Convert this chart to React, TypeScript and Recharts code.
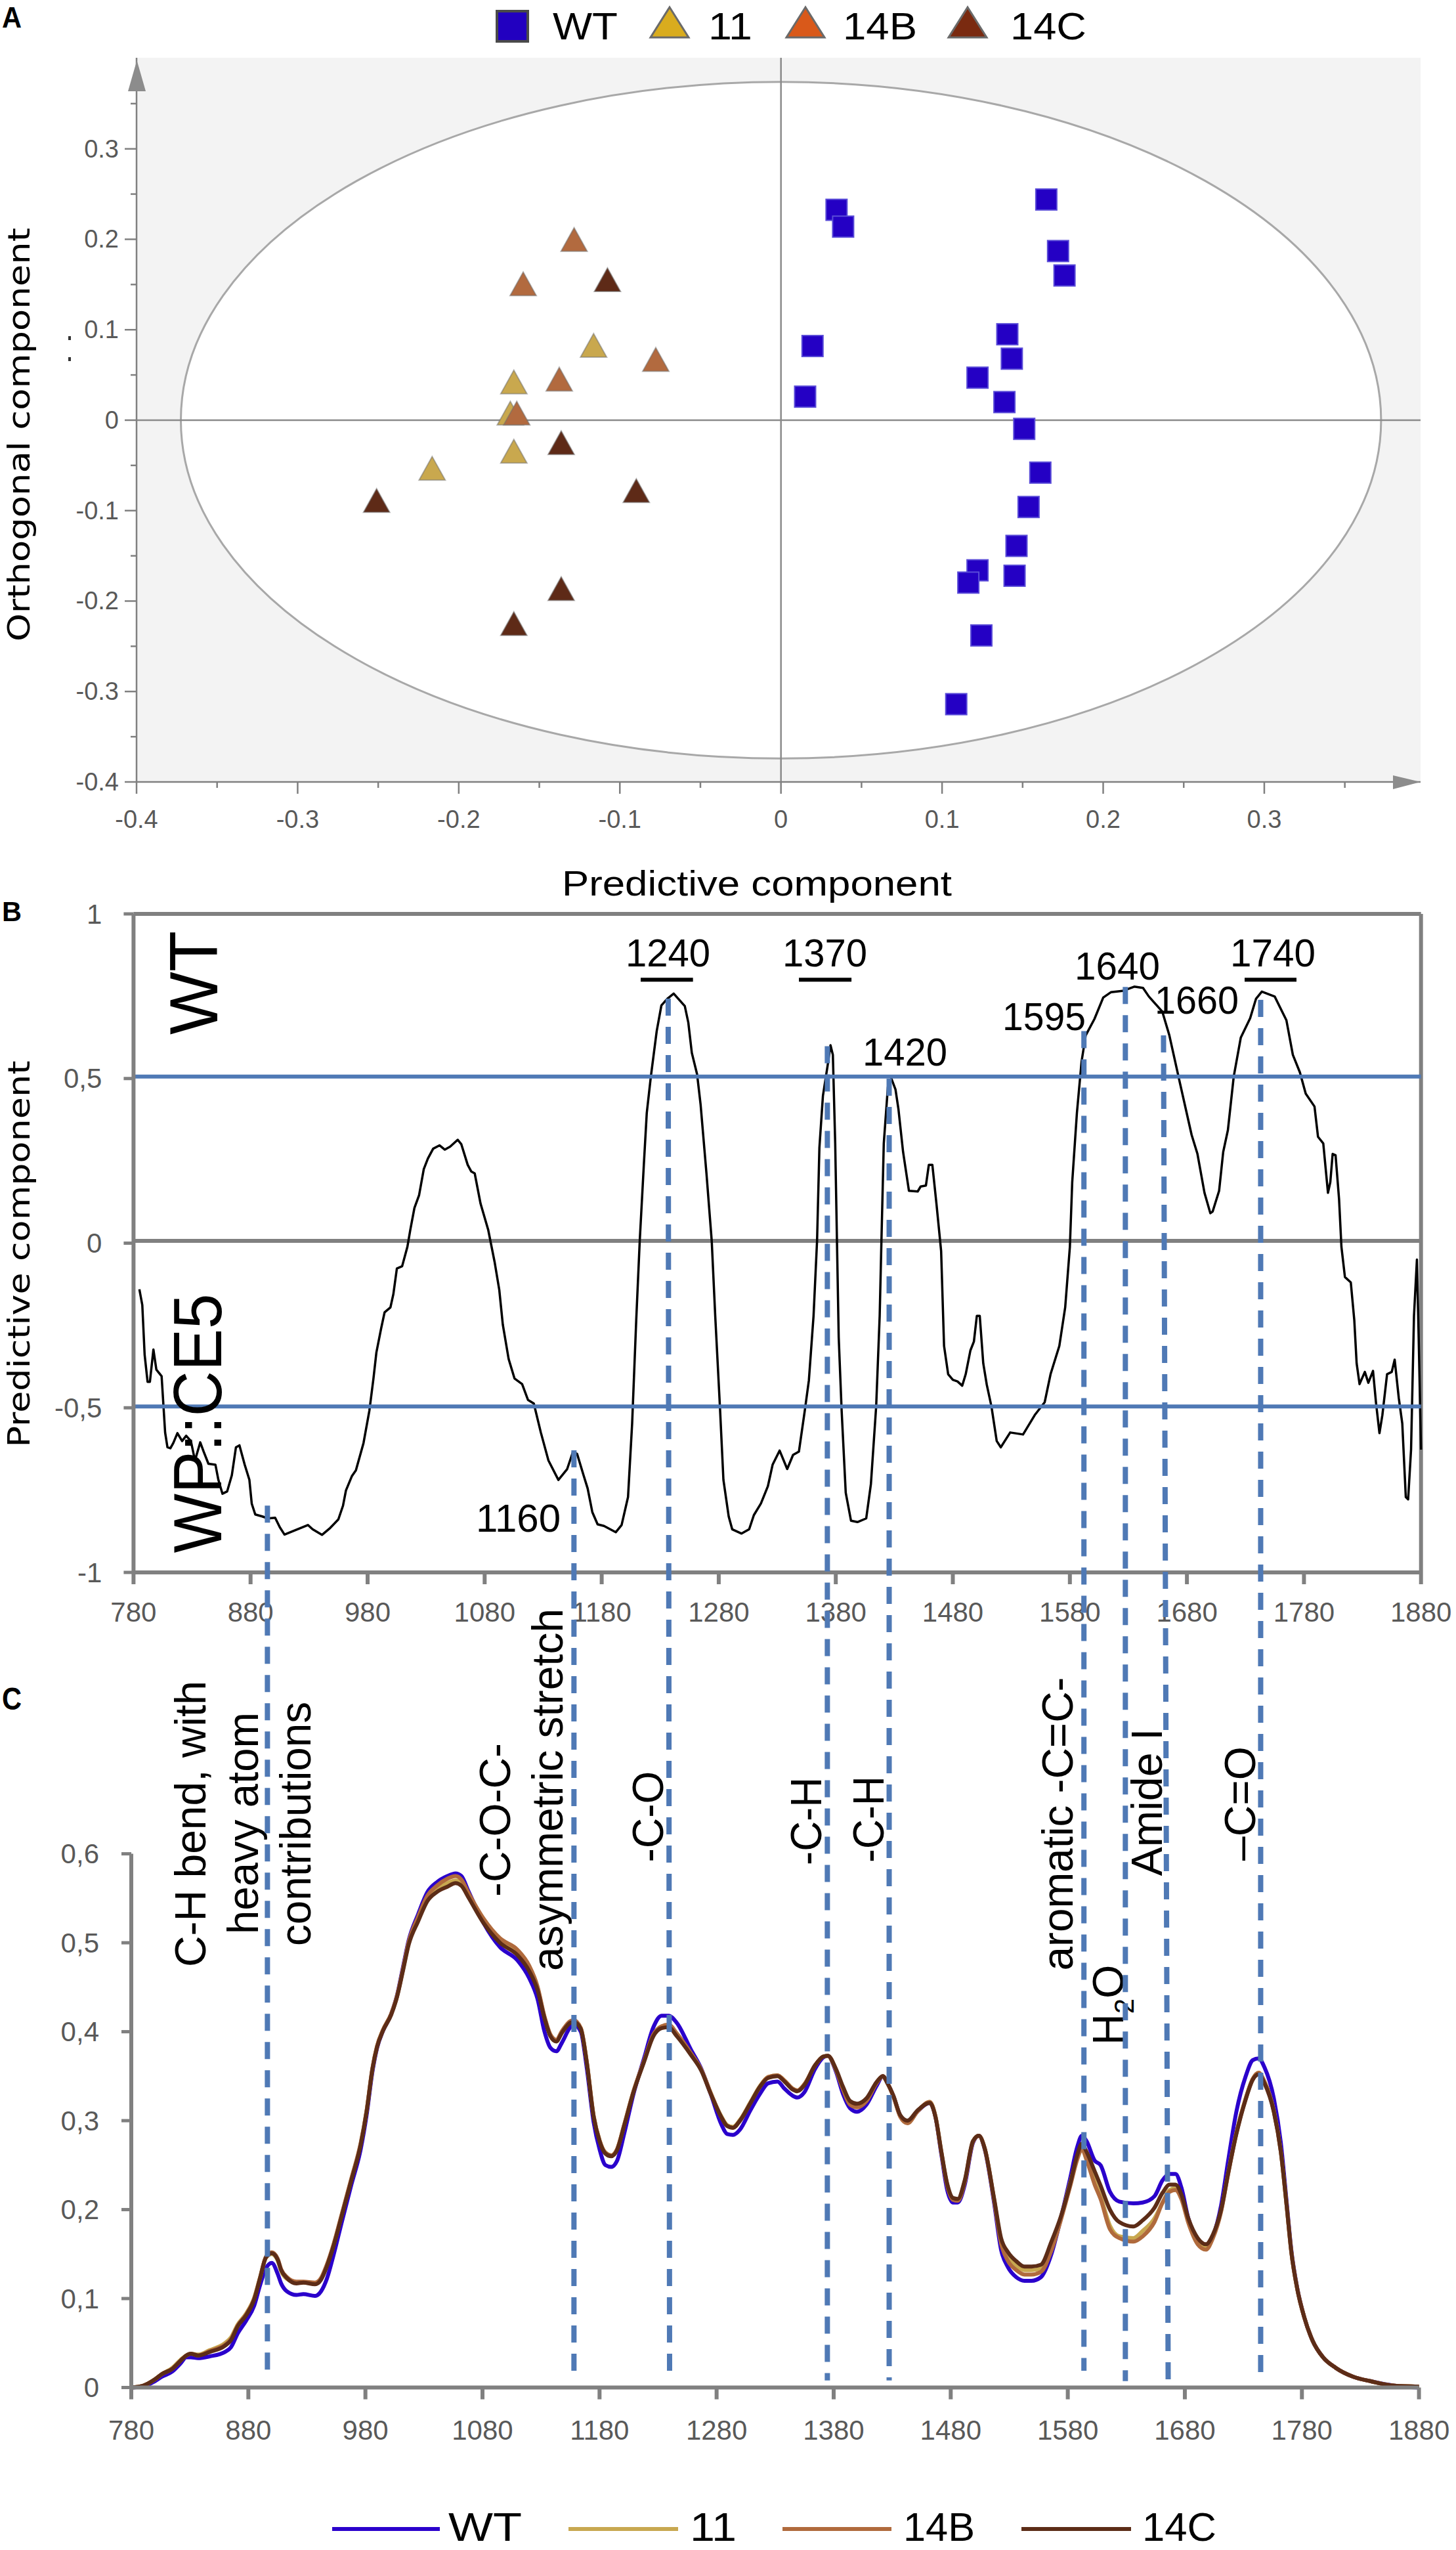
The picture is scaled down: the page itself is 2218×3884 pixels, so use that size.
import React from 'react';
import { ComposedChart, ScatterChart, Scatter, Line, XAxis, YAxis, ReferenceLine, ReferenceArea } from 'recharts';

const W = 2218;
const H = 3884;
const FONT = '"Liberation Sans", Arial, sans-serif';
const GRAY = '#808080';
const BLUE = '#4f79b5';
const TICK_TEXT = '#595959';

// ---------- Panel A ----------
const wtPoints = [
  [0.0345, 0.2326], [0.0386, 0.214], [0.1647, 0.244], [0.172, 0.187], [0.176, 0.16],
  [0.1405, 0.095], [0.1433, 0.068], [0.0196, 0.082], [0.015, 0.026], [0.122, 0.047],
  [0.1387, 0.02], [0.151, -0.0096], [0.161, -0.058], [0.1537, -0.096], [0.1462, -0.139],
  [0.145, -0.172], [0.122, -0.166], [0.1163, -0.1796], [0.1244, -0.238], [0.1088, -0.314],
];
const line11Points = [[-0.1163, 0.082], [-0.1658, 0.0415], [-0.1658, -0.035], [-0.2165, -0.054], [-0.168, 0.007]];
const line14BPoints = [[-0.1284, 0.199], [-0.16, 0.15], [-0.0777, 0.0665], [-0.1376, 0.0447], [-0.164, 0.007]];
const line14CPoints = [[-0.1077, 0.1546], [-0.1364, -0.0256], [-0.0898, -0.0786], [-0.251, -0.0895], [-0.1364, -0.187], [-0.1658, -0.2256]];
const aXTicks = [-0.4, -0.35, -0.3, -0.25, -0.2, -0.15, -0.1, -0.05, 0, 0.05, 0.1, 0.15, 0.2, 0.25, 0.3, 0.35];
const aYTicks = [-0.4, -0.35, -0.3, -0.25, -0.2, -0.15, -0.1, -0.05, 0, 0.05, 0.1, 0.15, 0.2, 0.25, 0.3, 0.35];

// ---------- Panel B ----------
const bWave = [
  785, 787.5, 789.5, 792, 794, 797, 799.5, 804, 807, 809, 811.5, 814, 817.5, 821.5, 825, 829, 832.5, 837, 840, 844,
  850, 852.5, 856, 860, 864, 867.5, 870.5, 875, 879, 881, 884, 890, 895, 901, 905, 909, 920, 929, 933, 941,
  948, 955, 959, 961.5, 966.5, 970, 976.5, 981.5, 985, 987.5, 991.5, 994.5, 999.5, 1002, 1005, 1009.5, 1014, 1016.5, 1020, 1024,
  1028, 1031.5, 1036, 1041.5, 1046, 1050.5, 1057, 1060, 1065.5, 1068.5, 1071.5, 1076.5, 1083, 1088.5, 1092.5, 1095.5, 1100.5, 1105.5, 1112, 1117,
  1122, 1128, 1134.5, 1143, 1150.5, 1155.5, 1159, 1164.5, 1168, 1172, 1176.5, 1182, 1192, 1197, 1202.5, 1206, 1209.5, 1212.5, 1216, 1218.5,
  1222, 1227, 1231, 1236, 1241.5, 1251, 1254, 1257, 1261.5, 1264.5, 1269.5, 1274, 1277, 1281, 1284, 1288.5, 1291.5, 1299.5, 1306, 1310,
  1316, 1322, 1326, 1332, 1338.5, 1343.5, 1348.5, 1353.5, 1357, 1361, 1364, 1366, 1369, 1373, 1375.5, 1377.5, 1379.5, 1381, 1382.5, 1385,
  1388.5, 1393, 1398.5, 1406, 1410, 1414.5, 1417.5, 1419, 1421, 1424.5, 1427.5, 1431, 1433.5, 1437.5, 1442.5, 1450, 1452.5, 1457, 1459.5, 1462.5,
  1466, 1470, 1472.5, 1476, 1480, 1484, 1488, 1491, 1495, 1498, 1500.5, 1503, 1506, 1509, 1513, 1517.5, 1521, 1529, 1540, 1550,
  1558.5, 1563.5, 1571, 1576, 1580, 1582, 1586, 1590, 1593.5, 1601, 1608.5, 1615, 1625, 1635, 1642.5, 1647.5, 1659, 1665, 1674, 1684,
  1689, 1695, 1700, 1702, 1707.5, 1711, 1715, 1720, 1726, 1734, 1739, 1744, 1755, 1765, 1770.5, 1776.5, 1781.5, 1789, 1792, 1796.5,
  1800.5, 1802.5, 1804.5, 1807, 1810, 1812, 1815, 1820, 1823, 1825, 1827.5, 1832, 1835, 1839, 1841.5, 1844.5, 1847, 1851, 1855, 1857.5,
  1861, 1864, 1867, 1869, 1871.5, 1874, 1876.5, 1878, 1880,
];
const bScore = [
  -0.14, -0.188, -0.339, -0.421, -0.421, -0.323, -0.384, -0.404, -0.575, -0.62, -0.623, -0.607, -0.577, -0.601, -0.585, -0.601, -0.66, -0.605, -0.634, -0.67,
  -0.673, -0.719, -0.761, -0.754, -0.705, -0.62, -0.614, -0.673, -0.719, -0.791, -0.824, -0.83, -0.836, -0.834, -0.863, -0.885, -0.869, -0.856, -0.869, -0.886,
  -0.865, -0.839, -0.797, -0.751, -0.708, -0.69, -0.607, -0.509, -0.411, -0.332, -0.26, -0.21, -0.195, -0.155, -0.077, -0.07, -0.011, 0.041, 0.107, 0.146,
  0.225, 0.257, 0.287, 0.297, 0.284, 0.293, 0.314, 0.301, 0.238, 0.218, 0.212, 0.12, 0.041, -0.057, -0.142, -0.247, -0.352, -0.411, -0.428, -0.476,
  -0.487, -0.575, -0.66, -0.719, -0.686, -0.633, -0.64, -0.705, -0.745, -0.817, -0.854, -0.859, -0.878, -0.856, -0.771, -0.548, -0.234, 0.007, 0.238, 0.395,
  0.506, 0.644, 0.722, 0.742, 0.758, 0.72, 0.67, 0.578, 0.513, 0.421, 0.212, 0.007, -0.221, -0.496, -0.719, -0.83, -0.869, -0.882, -0.869, -0.826,
  -0.791, -0.738, -0.673, -0.63, -0.686, -0.643, -0.633, -0.509, -0.417, -0.221, 0.007, 0.29, 0.447, 0.539, 0.601, 0.572, 0.303, 0.007, -0.286, -0.509,
  -0.758, -0.843, -0.847, -0.836, -0.732, -0.496, -0.221, 0.007, 0.303, 0.474, 0.5, 0.467, 0.408, 0.277, 0.159, 0.157, 0.172, 0.175, 0.238, 0.238,
  0.12, -0.024, -0.312, -0.398, -0.415, -0.42, -0.433, -0.398, -0.326, -0.299, -0.221, -0.221, -0.365, -0.43, -0.496, -0.601, -0.62, -0.575, -0.581, -0.522,
  -0.483, -0.398, -0.312, -0.195, -0.011, 0.185, 0.395, 0.552, 0.631, 0.681, 0.746, 0.762, 0.766, 0.779, 0.775, 0.749, 0.703, 0.631, 0.487, 0.329,
  0.271, 0.153, 0.091, 0.096, 0.159, 0.277, 0.343, 0.506, 0.624, 0.683, 0.742, 0.764, 0.749, 0.677, 0.572, 0.519, 0.454, 0.415, 0.323, 0.303,
  0.153, 0.185, 0.271, 0.267, 0.133, -0.011, -0.103, -0.119, -0.234, -0.365, -0.428, -0.391, -0.424, -0.388, -0.483, -0.577, -0.522, -0.398, -0.391, -0.354,
  -0.47, -0.548, -0.771, -0.778, -0.627, -0.221, -0.05, -0.286, -0.627,
];
const waveTicks = [780, 880, 980, 1080, 1180, 1280, 1380, 1480, 1580, 1680, 1780, 1880];
const bYTicks = [-1, -0.5, 0, 0.5, 1];
const bThresholds = [0.506, -0.496];
const bBars = [[1213.3, 1258], [1348.5, 1393.4], [1729.3, 1773.6]];

// ---------- Panel C ----------
const cWave = [
  780, 790, 800, 806, 815, 822, 827, 831, 837, 847,
  860, 865, 871, 878, 885, 890, 895, 900, 905, 908,
  913, 921, 927, 937, 942, 947, 953, 960, 968, 976,
  981, 986, 990, 995, 1002, 1007, 1012, 1017, 1025, 1033,
  1041, 1050, 1057, 1062, 1068, 1081, 1095, 1110, 1120, 1127,
  1133, 1138, 1143, 1148, 1155, 1158, 1164, 1169, 1175, 1180,
  1185, 1190, 1195, 1201, 1209, 1218, 1226, 1233, 1239, 1246,
  1258, 1267, 1275, 1284, 1289, 1294, 1300, 1309, 1317, 1324,
  1332, 1338, 1345, 1349, 1355, 1364, 1371, 1375, 1382, 1388,
  1394, 1400, 1408, 1417, 1422, 1426, 1431, 1437, 1443, 1452,
  1462, 1467, 1472, 1477, 1482, 1486, 1492, 1499, 1504, 1509,
  1517, 1523, 1529, 1536, 1543, 1549, 1557, 1566, 1574, 1582,
  1588, 1592, 1596, 1603, 1608, 1616, 1624, 1636, 1644, 1654,
  1661, 1667, 1672, 1677, 1683, 1691, 1698, 1704, 1711, 1717,
  1724, 1732, 1738, 1743, 1748, 1756, 1762, 1767, 1771, 1776,
  1782, 1789, 1798, 1809, 1824, 1839, 1859, 1880,
];
const cWT = [
  0, 0.001, 0.007, 0.012, 0.018, 0.027, 0.034, 0.034, 0.033, 0.035,
  0.04, 0.045, 0.061, 0.075, 0.092, 0.115, 0.134, 0.14, 0.128, 0.117,
  0.108, 0.104, 0.105, 0.103, 0.108, 0.122, 0.15, 0.187, 0.228, 0.268,
  0.306, 0.355, 0.382, 0.401, 0.42, 0.441, 0.472, 0.503, 0.532, 0.557,
  0.568, 0.575, 0.578, 0.575, 0.558, 0.522, 0.495, 0.48, 0.46, 0.437,
  0.4, 0.382, 0.378, 0.388, 0.405, 0.408, 0.4, 0.36, 0.298, 0.268,
  0.25, 0.248, 0.255, 0.285, 0.33, 0.37, 0.405, 0.418, 0.418, 0.41,
  0.38, 0.358, 0.33, 0.296, 0.285, 0.284, 0.29, 0.312, 0.33, 0.342,
  0.344, 0.336, 0.328, 0.326, 0.332, 0.358, 0.371, 0.373, 0.355, 0.33,
  0.314, 0.31, 0.318, 0.34, 0.35, 0.342, 0.328, 0.305, 0.298, 0.311,
  0.32, 0.304, 0.262, 0.222, 0.208, 0.208, 0.228, 0.275, 0.283, 0.268,
  0.208, 0.155, 0.135, 0.124, 0.12, 0.12, 0.124, 0.15, 0.19, 0.235,
  0.27, 0.283, 0.277, 0.255, 0.25, 0.22, 0.209, 0.207, 0.208, 0.215,
  0.233, 0.24, 0.24, 0.225, 0.19, 0.165, 0.158, 0.17, 0.205, 0.255,
  0.31, 0.35, 0.368, 0.37, 0.36, 0.325, 0.275, 0.208, 0.154, 0.112,
  0.079, 0.053, 0.034, 0.022, 0.012, 0.007, 0.002, 0,
];
const c11 = [
  0, 0.002, 0.009, 0.015, 0.022, 0.031, 0.036, 0.038, 0.037, 0.042,
  0.05, 0.056, 0.071, 0.083, 0.101, 0.124, 0.146, 0.15, 0.143, 0.131,
  0.122, 0.118, 0.118, 0.117, 0.122, 0.137, 0.161, 0.195, 0.234, 0.274,
  0.311, 0.358, 0.384, 0.402, 0.42, 0.44, 0.469, 0.5, 0.527, 0.55,
  0.561, 0.567, 0.57, 0.567, 0.554, 0.525, 0.503, 0.489, 0.471, 0.449,
  0.416, 0.396, 0.39, 0.4, 0.411, 0.412, 0.404, 0.367, 0.305, 0.278,
  0.264, 0.261, 0.268, 0.295, 0.333, 0.367, 0.396, 0.406, 0.407, 0.397,
  0.375, 0.357, 0.331, 0.305, 0.295, 0.293, 0.301, 0.321, 0.339, 0.349,
  0.351, 0.345, 0.336, 0.334, 0.341, 0.362, 0.372, 0.373, 0.357, 0.336,
  0.319, 0.316, 0.323, 0.343, 0.35, 0.342, 0.328, 0.305, 0.298, 0.311,
  0.321, 0.305, 0.265, 0.228, 0.212, 0.211, 0.232, 0.277, 0.283, 0.269,
  0.212, 0.165, 0.147, 0.137, 0.132, 0.132, 0.134, 0.158, 0.19, 0.23,
  0.258, 0.27, 0.258, 0.232, 0.215, 0.182, 0.17, 0.168, 0.176, 0.19,
  0.208, 0.222, 0.224, 0.214, 0.188, 0.164, 0.157, 0.17, 0.199, 0.241,
  0.286, 0.325, 0.347, 0.354, 0.344, 0.311, 0.265, 0.204, 0.152, 0.111,
  0.079, 0.053, 0.034, 0.022, 0.012, 0.007, 0.002, 0.001,
];
const c14B = [
  0, 0.002, 0.009, 0.015, 0.021, 0.03, 0.036, 0.038, 0.036, 0.041,
  0.048, 0.054, 0.07, 0.082, 0.1, 0.123, 0.147, 0.152, 0.145, 0.133,
  0.124, 0.119, 0.119, 0.118, 0.123, 0.138, 0.162, 0.196, 0.235, 0.275,
  0.311, 0.359, 0.384, 0.402, 0.42, 0.44, 0.47, 0.501, 0.529, 0.553,
  0.564, 0.572, 0.575, 0.571, 0.556, 0.527, 0.505, 0.492, 0.474, 0.451,
  0.417, 0.397, 0.391, 0.401, 0.412, 0.413, 0.404, 0.367, 0.305, 0.278,
  0.264, 0.261, 0.268, 0.295, 0.333, 0.367, 0.397, 0.406, 0.408, 0.398,
  0.376, 0.357, 0.331, 0.304, 0.294, 0.292, 0.3, 0.32, 0.338, 0.349,
  0.351, 0.345, 0.336, 0.334, 0.341, 0.362, 0.372, 0.373, 0.357, 0.335,
  0.318, 0.315, 0.322, 0.343, 0.35, 0.342, 0.327, 0.304, 0.297, 0.311,
  0.321, 0.304, 0.264, 0.227, 0.211, 0.21, 0.231, 0.276, 0.283, 0.269,
  0.211, 0.162, 0.142, 0.132, 0.127, 0.127, 0.13, 0.154, 0.188, 0.226,
  0.256, 0.268, 0.256, 0.228, 0.212, 0.178, 0.168, 0.164, 0.17, 0.186,
  0.208, 0.22, 0.222, 0.212, 0.185, 0.161, 0.155, 0.168, 0.198, 0.24,
  0.286, 0.325, 0.347, 0.354, 0.344, 0.311, 0.265, 0.204, 0.152, 0.111,
  0.079, 0.053, 0.034, 0.022, 0.012, 0.007, 0.002, 0.001,
];
const c14C = [
  0, 0.002, 0.009, 0.015, 0.021, 0.03, 0.036, 0.038, 0.036, 0.04,
  0.047, 0.053, 0.069, 0.081, 0.099, 0.123, 0.146, 0.151, 0.144, 0.132,
  0.123, 0.117, 0.118, 0.116, 0.121, 0.136, 0.16, 0.194, 0.233, 0.273,
  0.31, 0.358, 0.383, 0.401, 0.419, 0.439, 0.468, 0.498, 0.524, 0.547,
  0.557, 0.563, 0.567, 0.564, 0.551, 0.522, 0.5, 0.486, 0.468, 0.447,
  0.415, 0.395, 0.389, 0.399, 0.41, 0.411, 0.403, 0.366, 0.304, 0.277,
  0.263, 0.26, 0.267, 0.294, 0.332, 0.366, 0.395, 0.404, 0.405, 0.395,
  0.374, 0.356, 0.33, 0.304, 0.294, 0.292, 0.3, 0.32, 0.338, 0.348,
  0.35, 0.344, 0.335, 0.333, 0.34, 0.362, 0.372, 0.373, 0.358, 0.338,
  0.322, 0.319, 0.325, 0.344, 0.35, 0.342, 0.328, 0.306, 0.3, 0.312,
  0.32, 0.304, 0.265, 0.229, 0.213, 0.212, 0.233, 0.277, 0.283, 0.269,
  0.213, 0.168, 0.152, 0.142, 0.136, 0.136, 0.138, 0.164, 0.192, 0.229,
  0.261, 0.274, 0.265, 0.243, 0.227, 0.2, 0.186, 0.181, 0.188, 0.202,
  0.219, 0.228, 0.228, 0.217, 0.19, 0.168, 0.161, 0.172, 0.2, 0.241,
  0.285, 0.324, 0.346, 0.352, 0.342, 0.31, 0.265, 0.204, 0.152, 0.111,
  0.079, 0.053, 0.034, 0.022, 0.012, 0.007, 0.002, 0.001,
];
const cYTicks = [0, 0.1, 0.2, 0.3, 0.4, 0.5, 0.6];

// ---------- Dashed guides, in panel B's units, running down into panel C ----------
const guideTopWave = [894.4, 1156.3, 1236.8, 1372.8, 1425.6, 1592, 1627.4, 1660, 1743];
const guideBottomWave = [894.4, 1156.3, 1238, 1372.8, 1425.6, 1592, 1627.4, 1664, 1743];
const guideTop = [-0.797, -0.629, 0.743, 0.598, 0.4995, 0.644, 0.778, 0.631, 0.739];
const guideBottom = [-3.437, -3.449, -3.449, -3.454, -3.454, -3.425, -3.456, -3.475, -3.449];

const bTable = bWave.map((w, i) => ({ w, v: bScore[i] }));
const cTable = cWave.map((w, i) => ({ w, WT: cWT[i], s11: c11[i], s14B: c14B[i], s14C: c14C[i] }));
const toXY = (pts: number[][]) => pts.map(([x, y]) => ({ x, y }));

const layerStyle: React.CSSProperties = { position: 'absolute', left: 0, top: 0 };

const isMajor = (v: number) => Math.abs(v * 10 - Math.round(v * 10)) < 1e-6;

const AXTick = (p: any) => {
  const v = p.payload.value;
  const major = isMajor(v);
  return (
    <g>
      <line x1={p.x} x2={p.x} y1={p.y} y2={p.y + (major ? 18 : 9)} stroke={GRAY} strokeWidth={2.5} />
      {major && (
        <text x={p.x} y={p.y + 57} textAnchor="middle" dominantBaseline="central" fontFamily={FONT} fontSize={38} fill={TICK_TEXT}>
          {Math.abs(v) < 1e-9 ? '0' : v.toFixed(1)}
        </text>
      )}
    </g>
  );
};
const AYTick = (p: any) => {
  const v = p.payload.value;
  const major = isMajor(v);
  return (
    <g>
      <line x1={p.x} x2={p.x - (major ? 18 : 9)} y1={p.y} y2={p.y} stroke={GRAY} strokeWidth={2.5} />
      {major && (
        <text x={p.x - 27} y={p.y} textAnchor="end" dominantBaseline="central" fontFamily={FONT} fontSize={38} fill={TICK_TEXT}>
          {Math.abs(v) < 1e-9 ? '0' : v.toFixed(1)}
        </text>
      )}
    </g>
  );
};
const waveXTick = (dy: number) => (p: any) => (
  <g>
    <line x1={p.x} x2={p.x} y1={p.y} y2={p.y + 18} stroke={GRAY} strokeWidth={6} />
    <text x={p.x} y={p.y + dy} textAnchor="middle" dominantBaseline="central" fontFamily={FONT} fontSize={42} fill={TICK_TEXT}>
      {p.payload.value}
    </text>
  </g>
);
const commaYTick = (gap: number) => (p: any) => (
  <g>
    <line x1={p.x} x2={p.x - 15} y1={p.y} y2={p.y} stroke={GRAY} strokeWidth={5} />
    <text x={p.x - gap} y={p.y} textAnchor="end" dominantBaseline="central" fontFamily={FONT} fontSize={42} fill={TICK_TEXT}>
      {String(p.payload.value).replace('.', ',')}
    </text>
  </g>
);

const Square = (p: any) => (
  <rect x={p.cx - 16} y={p.cy - 16} width={32} height={32} fill="#2400c4" stroke="#5a4cd8" strokeWidth={2} />
);
const triangle = (fill: string) => (p: any) => (
  <polygon
    points={`${p.cx},${p.cy - 19} ${p.cx + 20},${p.cy + 17} ${p.cx - 20},${p.cy + 17}`}
    fill={fill}
    stroke="rgba(110,110,110,0.5)"
    strokeWidth={2}
  />
);
const EllipseShape = (p: any) => (
  <ellipse
    cx={p.x + p.width / 2}
    cy={p.y + p.height / 2}
    rx={Math.abs(p.width) / 2}
    ry={Math.abs(p.height) / 2}
    fill="#ffffff"
    stroke="#a8a8a8"
    strokeWidth={3}
  />
);

const Txt = ({ x, y, len, size = 60, children, fill = '#000', weight, family = FONT }: any) => (
  <text x={x} y={y} textLength={len} lengthAdjust={len ? 'spacingAndGlyphs' : undefined} fontFamily={family} fontSize={size} fill={fill} fontWeight={weight}>
    {children}
  </text>
);
const VTxt = ({ x, yc, len, size = 66, children, family = FONT, fill = '#000' }: any) => (
  <text
    transform={`translate(${x} ${yc}) rotate(-90)`}
    textAnchor="middle"
    textLength={len}
    lengthAdjust={len ? 'spacingAndGlyphs' : undefined}
    fontFamily={family}
    fontSize={size}
    fill={fill}
  >
    {children}
  </text>
);
const LegendTri = ({ x, w = 58, fill }: any) => (
  <polygon points={`${x + w / 2},11 ${x + w},57 ${x},57`} fill={fill} stroke="#6a6a6a" strokeWidth={3} />
);

export default function App() {
  return (
    <div style={{ position: 'absolute', left: 0, top: 0, width: W, height: H, overflow: 'hidden' }}>
      {/* Panel A */}
      <div style={layerStyle}>
        <ScatterChart width={W} height={H} margin={{ top: 88, right: W - 2164, left: 0, bottom: H - 1191 - 80 }}>
          <XAxis type="number" dataKey="x" domain={[-0.4, 0.397]} ticks={aXTicks} interval={0} height={80} tickSize={0} tickMargin={0} tickLine={false} axisLine={{ stroke: GRAY, strokeWidth: 2.5 }} tick={AXTick} />
          <YAxis type="number" dataKey="y" domain={[-0.4, 0.4007]} ticks={aYTicks} interval={0} width={208} tickSize={0} tickMargin={0} tickLine={false} axisLine={{ stroke: GRAY, strokeWidth: 2.5 }} tick={AYTick} />
          <ReferenceArea x1={-0.4} x2={0.397} y1={-0.4} y2={0.4007} fill="#f3f3f3" fillOpacity={1} stroke="none" />
          <ReferenceArea x1={-0.3725} x2={0.3725} y1={-0.374} y2={0.374} shape={EllipseShape} />
          <ReferenceLine x={0} stroke="#8a8a8a" strokeWidth={2.5} />
          <ReferenceLine y={0} stroke="#8a8a8a" strokeWidth={2.5} />
          <Scatter name="WT" data={toXY(wtPoints)} shape={Square} isAnimationActive={false} />
          <Scatter name="11" data={toXY(line11Points)} shape={triangle('#c9a84e')} isAnimationActive={false} />
          <Scatter name="14B" data={toXY(line14BPoints)} shape={triangle('#b26a3f')} isAnimationActive={false} />
          <Scatter name="14C" data={toXY(line14CPoints)} shape={triangle('#5e2a17')} isAnimationActive={false} />
        </ScatterChart>
      </div>

      {/* Panel B */}
      <div style={layerStyle}>
        <ComposedChart width={W} height={H} data={bTable} margin={{ top: 1392, right: W - 2164.7, left: 0, bottom: H - 2395 - 80 }}>
          <XAxis type="number" dataKey="w" domain={[780, 1880]} ticks={waveTicks} interval={0} height={80} tickSize={0} tickMargin={0} tickLine={false} axisLine={{ stroke: GRAY, strokeWidth: 6 }} tick={waveXTick(60)} />
          <YAxis type="number" domain={[-1, 1]} ticks={bYTicks} interval={0} width={203.4} tickSize={0} tickMargin={0} tickLine={false} axisLine={{ stroke: GRAY, strokeWidth: 6 }} tick={commaYTick(48)} />
          <ReferenceLine y={1} stroke={GRAY} strokeWidth={6} />
          <ReferenceLine x={1880} stroke={GRAY} strokeWidth={6} />
          <ReferenceLine y={0.007} stroke={GRAY} strokeWidth={6} />
          <Line type="linear" dataKey="v" stroke="#000" strokeWidth={3.5} strokeLinejoin="round" dot={false} isAnimationActive={false} />
          {bThresholds.map((t) => (
            <ReferenceLine key={t} y={t} stroke={BLUE} strokeWidth={6} />
          ))}
          {bBars.map(([a, b]) => (
            <ReferenceLine key={a} segment={[{ x: a, y: 0.8 }, { x: b, y: 0.8 }]} stroke="#000" strokeWidth={6} />
          ))}
        </ComposedChart>
      </div>

      {/* Panel C */}
      <div style={layerStyle}>
        <ComposedChart width={W} height={H} data={cTable} margin={{ top: 2823.6, right: W - 2161.6, left: 0, bottom: H - 3636.5 - 90 }}>
          <XAxis type="number" dataKey="w" domain={[780, 1880]} ticks={waveTicks} interval={0} height={90} tickSize={0} tickMargin={0} tickLine={false} axisLine={{ stroke: GRAY, strokeWidth: 6 }} tick={waveXTick(65)} />
          <YAxis type="number" domain={[0, 0.6]} ticks={cYTicks} interval={0} width={200} tickSize={0} tickMargin={0} tickLine={false} axisLine={{ stroke: GRAY, strokeWidth: 6 }} tick={commaYTick(49)} />
          <Line type="monotone" dataKey="WT" stroke="#2a00cc" strokeWidth={6} dot={false} isAnimationActive={false} />
          <Line type="monotone" dataKey="s11" stroke="#c8a850" strokeWidth={6} dot={false} isAnimationActive={false} />
          <Line type="monotone" dataKey="s14B" stroke="#b06a3c" strokeWidth={6} dot={false} isAnimationActive={false} />
          <Line type="monotone" dataKey="s14C" stroke="#5c2c17" strokeWidth={6} dot={false} isAnimationActive={false} />
        </ComposedChart>
      </div>

      {/* Text, legends, arrows */}
      <svg width={W} height={H} style={layerStyle}>
        <polygon points="195,139 222,139 208.5,92" fill="#8c8c8c" />
        <polygon points="2122,1181 2122,1202 2164,1191" fill="#8c8c8c" />

        <Txt x={3} y={42} size={44} weight="bold" len={30}>A</Txt>
        <Txt x={3} y={1403} size={42} weight="bold" len={30}>B</Txt>
        <Txt x={3} y={2604} size={48} weight="bold" len={30}>C</Txt>

        <rect x={757} y={17} width={47} height={46} fill="#2200c0" stroke="#4a4a4a" strokeWidth={4} />
        <Txt x={842} y={60} size={58} len={99}>WT</Txt>
        <LegendTri x={991} fill="#d9ac1e" />
        <Txt x={1079} y={60} size={58} len={67}>11</Txt>
        <LegendTri x={1198} fill="#d9591a" />
        <Txt x={1284} y={60} size={58} len={113}>14B</Txt>
        <LegendTri x={1445} fill="#7a2a10" />
        <Txt x={1539} y={60} size={58} len={116}>14C</Txt>

        <VTxt x={45} yc={662} len={630} size={46} family='"DejaVu Sans"'>Orthogonal component</VTxt>
        <rect x={104} y={512} width={4} height={6} fill="#333" />
        <rect x={104} y={544} width={4} height={6} fill="#333" />
        <Txt x={856} y={1364} size={54} len={594}>Predictive component</Txt>

        <VTxt x={45} yc={1910} len={589} size={46} family='"DejaVu Sans"'>Predictive component</VTxt>
        <VTxt x={331} yc={1497} len={158} size={104}>WT</VTxt>
        <VTxt x={337} yc={2168} len={395} size={104}>WP::CE5</VTxt>
        <Txt x={953} y={1472} len={129}>1240</Txt>
        <Txt x={1192} y={1472} len={129}>1370</Txt>
        <Txt x={1314} y={1623} len={129}>1420</Txt>
        <Txt x={1527} y={1569} len={127}>1595</Txt>
        <Txt x={1637} y={1492} len={130}>1640</Txt>
        <Txt x={1759} y={1544} len={128}>1660</Txt>
        <Txt x={1874} y={1472} len={130}>1740</Txt>
        <Txt x={725} y={2333} len={129}>1160</Txt>

        <VTxt x={313} yc={2778} len={436}>C-H bend, with</VTxt>
        <VTxt x={393} yc={2777} len={338}>heavy atom</VTxt>
        <VTxt x={473} yc={2778} len={372}>contributions</VTxt>
        <VTxt x={777} yc={2772} len={234}>-C-O-C-</VTxt>
        <VTxt x={857} yc={2726} len={552}>asymmetric stretch</VTxt>
        <VTxt x={1010} yc={2767} len={139}>-C-O</VTxt>
        <VTxt x={1251} yc={2774} len={134}>-C-H</VTxt>
        <VTxt x={1346} yc={2771} len={132}>-C-H</VTxt>
        <VTxt x={1634} yc={2778} len={447}>aromatic -C=C-</VTxt>
        <text transform="translate(1711 3115) rotate(-90)" fontFamily={FONT} fontSize={66} fill="#000">
          H<tspan dy={16} fontSize={42}>2</tspan><tspan dy={-16}>O</tspan>
        </text>
        <VTxt x={1770} yc={2745} len={225}>Amide I</VTxt>
        <VTxt x={1912} yc={2747} len={174}>–C=O</VTxt>

        <rect x={506} y={3849} width={164} height={6} fill="#2a00cc" />
        <Txt x={683} y={3870} size={62} len={112}>WT</Txt>
        <rect x={866} y={3849} width={167} height={6} fill="#c8a850" />
        <Txt x={1051} y={3870} size={62} len={71}>11</Txt>
        <rect x={1192} y={3849} width={166} height={6} fill="#b06a3c" />
        <Txt x={1376} y={3870} size={62} len={109}>14B</Txt>
        <rect x={1556} y={3849} width={167} height={6} fill="#5c2c17" />
        <Txt x={1740} y={3870} size={62} len={113}>14C</Txt>
      </svg>

      {/* Dashed guides spanning panels B and C */}
      <div style={layerStyle}>
        <ComposedChart width={W} height={H} margin={{ top: 1392, right: W - 2164.7, left: 203.4, bottom: H - 3636.5 }}>
          <XAxis type="number" dataKey="w" domain={[780, 1880]} hide />
          <YAxis type="number" dataKey="y" domain={[-3.4756, 1]} hide />
          {guideTop.map((t, i) => (
            <Line
              key={i}
              data={[{ w: guideTopWave[i], y: t }, { w: guideBottomWave[i], y: guideBottom[i] }]}
              dataKey="y"
              stroke={BLUE}
              strokeWidth={8}
              strokeDasharray="26 17"
              dot={false}
              isAnimationActive={false}
            />
          ))}
        </ComposedChart>
      </div>
    </div>
  );
}
